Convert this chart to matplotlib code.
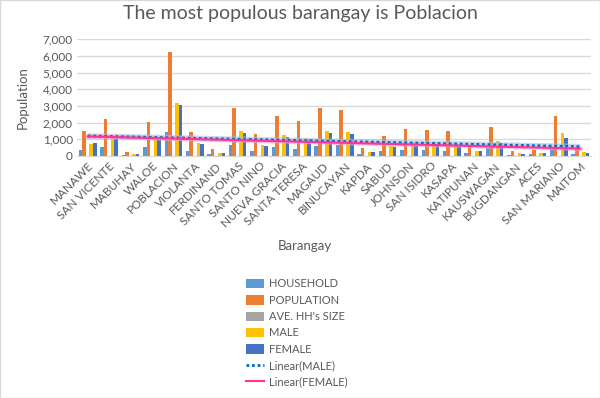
import numpy as np
import matplotlib
matplotlib.use("Agg")
import matplotlib.pyplot as plt
from matplotlib.lines import Line2D
from matplotlib.patches import Patch, Rectangle

plt.rcParams['font.family'] = ['Lato', 'DejaVu Sans']

barangays = ["MANAWE", "SAN VICENTE", "MABUHAY", "WALOE", "POBLACION", "VIOLANTA",
             "FERDINAND", "SANTO TOMAS", "SANTO NINO", "NUEVA GRACIA", "SANTA TERESA",
             "MAGAUD", "BINUCAYAN", "KAPDA", "SABUD", "JOHNSON", "SAN ISIDRO", "KASAPA",
             "KATIPUNAN", "KAUSWAGAN", "BUGDANGAN", "ACES", "SAN MARIANO", "MAITOM"]
household = [340, 520, 80, 520, 1420, 300, 100, 660, 300, 520, 420, 620,
             660, 100, 280, 360, 360, 320, 160, 480, 80, 100, 560, 100]
population = [1500, 2220, 240, 2060, 6220, 1460, 420, 2900, 1300, 2420, 2080, 2900,
              2740, 480, 1180, 1620, 1560, 1500, 640, 1720, 300, 360, 2420, 460]
ave_hh_size = [4.4, 4.3, 3.0, 4.0, 4.4, 4.9, 4.2, 4.4, 4.3, 4.7, 5.0, 4.7,
               4.2, 4.8, 4.2, 4.5, 4.3, 4.7, 4.0, 3.6, 3.8, 3.6, 4.3, 4.6]
male = [720, 1150, 120, 1050, 3180, 760, 180, 1500, 660, 1260, 1080, 1520,
        1440, 240, 620, 840, 820, 800, 320, 920, 160, 200, 1360, 240]
female = [760, 1130, 120, 1050, 3040, 720, 180, 1400, 600, 1140, 1000, 1360,
          1300, 220, 540, 760, 720, 720, 280, 760, 120, 160, 1080, 200]

series = [("HOUSEHOLD", household, "#5B9BD5"),
          ("POPULATION", population, "#ED7D31"),
          ("AVE. HH's SIZE", ave_hh_size, "#A5A5A5"),
          ("MALE", male, "#FFC000"),
          ("FEMALE", female, "#4472C4")]

W, H = 600, 398
fig = plt.figure(figsize=(W / 100, H / 100), dpi=100)
ax = fig.add_axes([77 / W, 1 - 156 / H, (591 - 77) / W, (156 - 39.3) / H])

x = np.arange(len(barangays))
bw = 0.165
for i, (name, vals, col) in enumerate(series):
    ax.bar(x + (i - 2) * bw, vals, width=bw, color=col, label=name, zorder=2)

# linear trendlines
xs = np.array([x[0], x[-1]], dtype=float)
pm = np.polyfit(x, male, 1)
pf = np.polyfit(x, female, 1)
ax.plot(xs, np.polyval(pm, xs), color="#9DC3E6", lw=4, alpha=0.6, zorder=3, solid_capstyle='butt')
ax.plot(xs, np.polyval(pm, xs), color="#0070C0", lw=2, ls=(0, (1, 1)), zorder=4)
ax.plot(xs, np.polyval(pf, xs), color="#FF99CC", lw=3.5, alpha=0.5, zorder=3)
ax.plot(xs, np.polyval(pf, xs), color="#FF3399", lw=1.5, zorder=4)

ax.set_xlim(-0.5, len(barangays) - 0.5)
ax.set_ylim(0, 7000)
ax.set_yticks(range(0, 7001, 1000))
ax.set_yticklabels([f"{v:,}" for v in range(0, 7001, 1000)], fontsize=8.5, color="#595959")
ax.yaxis.grid(True, color="#D9D9D9", lw=1, zorder=0)
ax.set_axisbelow(True)
ax.tick_params(axis='both', length=0, pad=3)
for s in ["left", "right", "top"]:
    ax.spines[s].set_visible(False)
ax.spines["bottom"].set_color("#D9D9D9")

ax.set_xticks(x)
ax.set_xticklabels(barangays, rotation=45, ha='right', rotation_mode='anchor',
                   fontsize=8.5, color="#595959")

ax.set_ylabel("Population", fontsize=9.5, color="#595959", labelpad=10)
fig.text(305 / W, 1 - 246 / H, "Barangay", ha='center', va='center', fontsize=9.5, color="#595959")
fig.text(300 / W, 1 - 14 / H, "The most populous barangay is Poblacion", ha='center', va='center',
         fontsize=14, color="#595959")

handles = [Patch(facecolor=c, edgecolor='none') for _, _, c in series]
handles += [Line2D([0], [0], color="#0070C0", lw=2, ls=(0, (1, 1))),
            Line2D([0], [0], color="#FF3399", lw=1.5)]
labels = [n for n, _, _ in series] + ["Linear(MALE)", "Linear(FEMALE)"]
fig.legend(handles, labels, loc='upper left', bbox_to_anchor=(242 / W, 1 - 274 / H),
           frameon=False, fontsize=8, labelcolor="#595959", handlelength=1.6,
           handleheight=0.9, handletextpad=0.4, labelspacing=0.48, borderaxespad=0)

fig.patches.append(Rectangle((0, 0), 1, 1, transform=fig.transFigure, fill=False,
                             edgecolor="#D9D9D9", lw=1))
fig.savefig("out.png", dpi=100)
